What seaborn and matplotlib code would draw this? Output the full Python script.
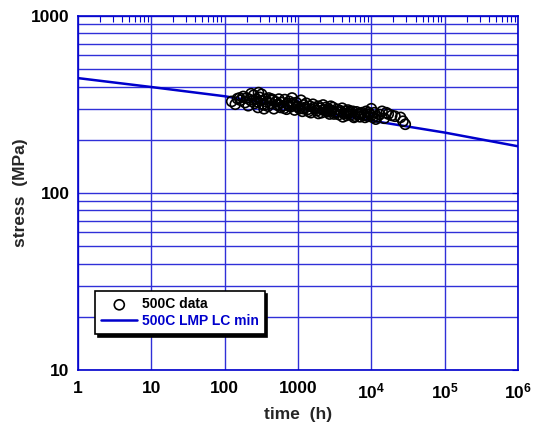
import matplotlib
matplotlib.use("Agg")
import matplotlib.pyplot as plt
import seaborn as sns
import pandas as pd
import numpy as np
from matplotlib.ticker import LogLocator, FixedLocator, FixedFormatter, NullFormatter

# ---- data ----
data_time = [125, 140, 150, 165, 180, 190, 200, 210, 220, 235, 250, 260, 270, 285, 300, 310, 320, 330, 345, 360, 375, 390, 400,
             420, 450, 470, 500, 520, 550, 580, 600, 630, 660, 700, 720, 760, 800, 830, 870, 900, 950, 980,
             1050, 1100, 1150, 1200, 1250, 1300, 1380, 1450, 1500, 1600, 1700, 1800, 1900, 2000, 2100, 2200, 2300, 2400,
             2500, 2600, 2700, 2800, 2900, 3000,
             3200, 3400, 3600, 3800, 4000, 4200, 4400, 4600, 4800, 5000, 5300, 5600, 6000, 6300, 6700, 7000, 7500, 8000,
             8500, 9000, 9500, 10000, 10500, 11000, 11500,
             13000, 14000, 15000, 17000, 19000, 25000, 27000, 29000,
             160, 230, 280, 290, 350, 440, 540, 650, 750, 850, 1000, 1200, 1400, 1650, 1900, 2200, 2600, 3100, 3500,
             4100, 4700, 5200, 5800, 6500, 7200, 8200, 9200, 10000, 12000, 16000, 21000]
data_stress = [330, 318, 342, 335, 352, 325, 345, 312, 338, 330, 358, 322, 340, 305, 348, 333, 362, 318, 300, 340, 328, 310, 345,
               322, 335, 300, 328, 315, 340, 305, 325, 312, 338, 298, 320, 330, 308, 345, 315, 295, 325, 310,
               300, 335, 290, 315, 305, 322, 298, 310, 285, 318, 300, 292, 310, 302, 285, 315, 296, 305,
               288, 300, 280, 310, 292, 305,
               285, 298, 278, 292, 302, 282, 290, 275, 295, 285, 278, 290, 272, 288, 280, 270, 285, 276,
               290, 272, 280, 300, 268, 285, 262,
               278, 290, 265, 280, 275, 268, 255, 245,
               345, 365, 328, 370, 315, 340, 318, 302, 312, 322, 308, 300, 290, 305, 282, 295, 292, 280, 288,
               270, 282, 290, 268, 278, 282, 268, 285, 275, 270, 285, 272]

lmp_time = [1, 10, 100, 1000, 1e4, 1e5, 1e6]
lmp_stress = [447, 398, 353, 302, 257, 220, 184]

x_ticks = [1, 10, 100, 1000, 1e4, 1e5, 1e6]
x_labels = ["1", "10", "100", "1000", r"$\mathbf{10^{4}}$", r"$\mathbf{10^{5}}$", r"$\mathbf{10^{6}}$"]
y_ticks = [10, 100, 1000]
y_labels = ["10", "100", "1000"]

sns.set_style("white")
plt.rcParams['font.family'] = ['Liberation Sans', 'DejaVu Sans']
plt.rcParams['mathtext.fontset'] = 'custom'
plt.rcParams['mathtext.bf'] = 'Liberation Sans:bold'
plt.rcParams['mathtext.rm'] = 'Liberation Sans'

BLUE = "#0000cc"
GRID = "#3030d8"

fig = plt.figure(figsize=(5.33, 4.38), dpi=100)
ax = fig.add_axes([0.146, 0.155, 0.826, 0.808])

ax.set_xscale("log")
ax.set_yscale("log")
ax.set_xlim(1, 1e6)
ax.set_ylim(10, 1000)

# grid
ax.xaxis.set_major_locator(FixedLocator(x_ticks))
ax.xaxis.set_major_formatter(FixedFormatter(x_labels))
ax.xaxis.set_minor_locator(LogLocator(base=10, subs=np.arange(2, 10), numticks=20))
ax.xaxis.set_minor_formatter(NullFormatter())
ax.yaxis.set_major_locator(FixedLocator(y_ticks))
ax.yaxis.set_major_formatter(FixedFormatter(y_labels))
ax.yaxis.set_minor_locator(LogLocator(base=10, subs=np.arange(2, 10), numticks=20))
ax.yaxis.set_minor_formatter(NullFormatter())
ax.grid(True, which="major", axis="both", color=GRID, lw=1.0)
ax.grid(True, which="minor", axis="y", color=GRID, lw=1.0)
ax.set_axisbelow(True)

df_lmp = pd.DataFrame({"time": lmp_time, "stress": lmp_stress})
df_data = pd.DataFrame({"time": data_time, "stress": data_stress})

sns.lineplot(data=df_lmp, x="time", y="stress", ax=ax, color=BLUE, lw=1.8,
             label="500C LMP LC min", zorder=3)
sns.scatterplot(data=df_data, x="time", y="stress", ax=ax, marker="o", s=52,
                facecolor="none", edgecolor="black", linewidth=1.2,
                label="500C data", zorder=4)

for s in ax.spines.values():
    s.set_color(BLUE)
    s.set_linewidth(1.2)

ax.tick_params(axis="both", which="both", direction="in", colors=BLUE, top=True, right=True,
               labelcolor="black")
ax.tick_params(axis="x", which="major", length=0, pad=8)
ax.tick_params(axis="x", which="minor", length=4, width=0.8)
ax.tick_params(axis="y", which="major", length=4, pad=6)
ax.tick_params(axis="y", which="minor", length=0)
for lbl in ax.get_xticklabels() + ax.get_yticklabels():
    lbl.set_fontsize(12.5)
    lbl.set_fontweight("bold")

ax.set_xlabel("time  (h)", fontsize=12.5, fontweight="bold", labelpad=4)
ax.set_ylabel("stress  (MPa)", fontsize=12.5, fontweight="bold", labelpad=2)

handles, labels = ax.get_legend_handles_labels()
order = [labels.index("500C data"), labels.index("500C LMP LC min")]
leg = ax.legend([handles[i] for i in order], [labels[i] for i in order],
                loc="upper left", bbox_to_anchor=(0.039, 0.223), frameon=True, fancybox=False,
                shadow={"color": "black", "alpha": 1.0}, edgecolor="black",
                prop={"weight": "bold", "size": 10}, handlelength=2.6, borderpad=0.45,
                labelspacing=0.15, handletextpad=0.3, borderaxespad=0, framealpha=1)
leg.get_frame().set_linewidth(1.2)
texts = leg.get_texts()
texts[0].set_color("black")
texts[1].set_color(BLUE)

fig.savefig("out.png", dpi=100)
